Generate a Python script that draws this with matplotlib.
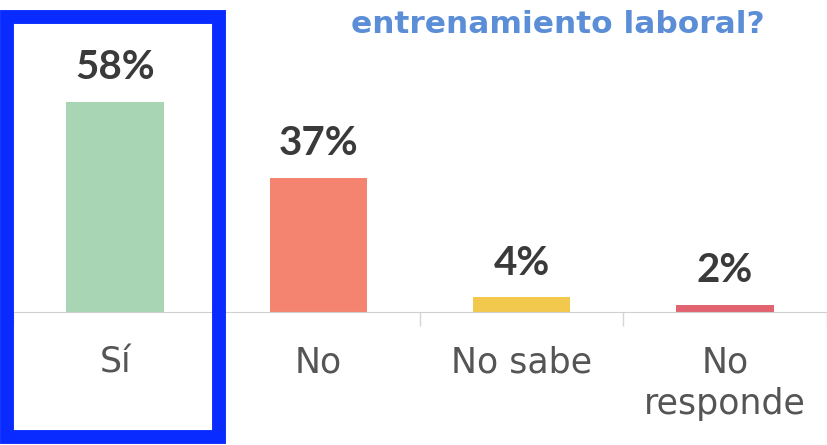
import matplotlib.pyplot as plt
from matplotlib.patches import Rectangle

categories = ['Sí', 'No', 'No sabe', 'No\nresponde']
values = [58, 37, 4, 2]
value_labels = ['58%', '37%', '4%', '2%']
colors = ['#a8d5b4', '#f4836f', '#f2c94c', '#e0636f']
title = 'entrenamiento laboral?'

fig = plt.figure(figsize=(8.28, 4.45), dpi=100)
ax = fig.add_axes([0.0163, 0.299, 0.982, 0.652])

x = list(range(len(categories)))
bars = ax.bar(x, values, width=0.48, color=colors)

for bar, lab in zip(bars, value_labels):
    ax.annotate(lab, (bar.get_x() + bar.get_width() / 2, bar.get_height()),
                xytext=(0, 16.5), textcoords='offset points',
                ha='center', va='baseline', fontsize=29, fontweight='bold',
                family='Lato', color='#3a3a3a')

ax.set_xlim(-0.5, 3.5)
ax.set_ylim(0, 80)
ax.set_xticks(x)
ax.set_xticklabels(categories, fontsize=25, color='#555555', linespacing=1.3)
ax.tick_params(axis='x', which='major', length=0, pad=24)
ax.set_xticks([-0.5, 0.5, 1.5, 2.5, 3.5], minor=True)
ax.tick_params(axis='x', which='minor', length=10, color='#d5d5d5', width=1)
ax.set_yticks([])
for s in ['top', 'left', 'right']:
    ax.spines[s].set_visible(False)
ax.spines['bottom'].set_color('#d0d0d0')

fig.text(0.674, 0.926, title, ha='center', va='baseline', fontsize=22.5,
         fontweight='bold', color='#5b8ed6')

# highlight box around the first category
fig.patches.append(Rectangle((0.00845, 0.018), 0.256, 0.944, transform=fig.transFigure,
                             fill=False, edgecolor='#0a2bff', linewidth=10))

fig.savefig('out.png', dpi=100)
